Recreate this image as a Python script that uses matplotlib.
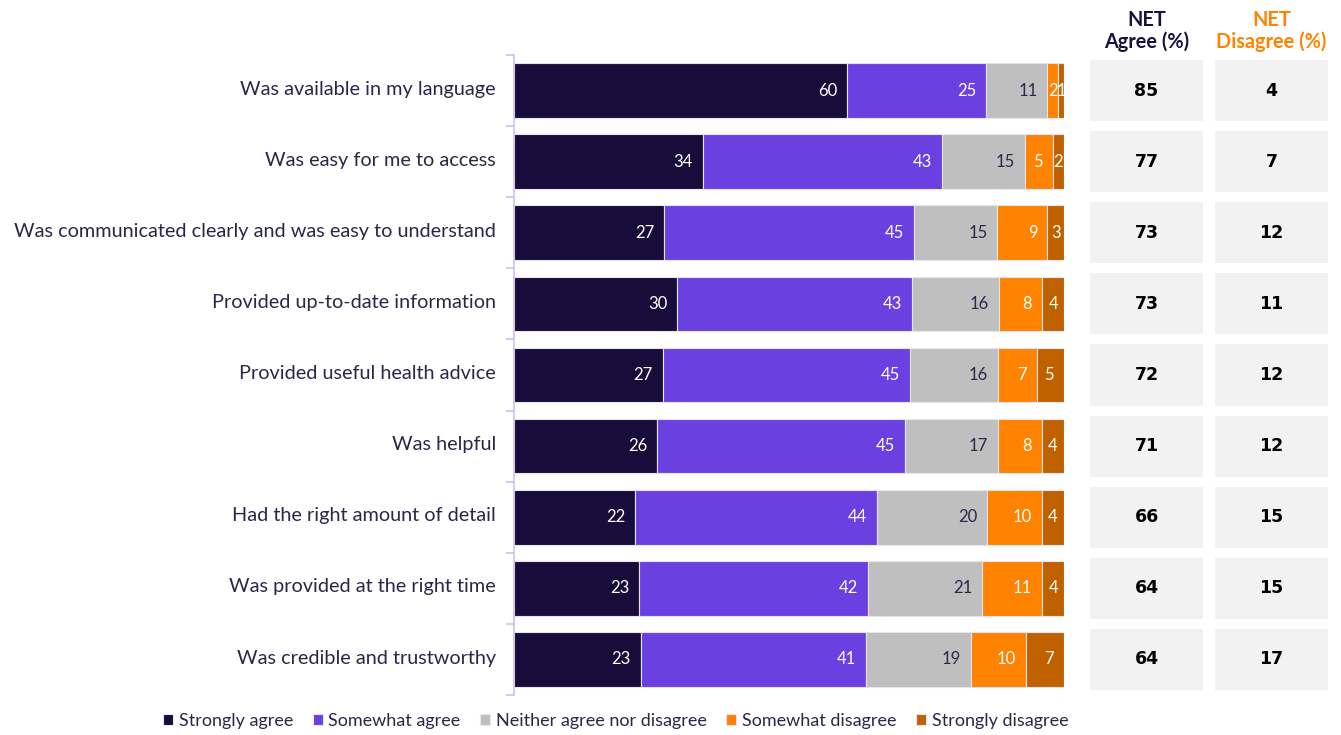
import matplotlib as mpl
mpl.use('Agg')
import matplotlib.pyplot as plt
import numpy as np

plt.rcParams['font.family'] = ['Lato', 'DejaVu Sans']

categories = ['Was available in my language', 'Was easy for me to access',
              'Was communicated clearly and was easy to understand',
              'Provided up-to-date information', 'Provided useful health advice',
              'Was helpful', 'Had the right amount of detail',
              'Was provided at the right time', 'Was credible and trustworthy']
strongly_agree = [60, 34, 27, 30, 27, 26, 22, 23, 23]
somewhat_agree = [25, 43, 45, 43, 45, 45, 44, 42, 41]
neither = [11, 15, 15, 16, 16, 17, 20, 21, 19]
somewhat_disagree = [2, 5, 9, 8, 7, 8, 10, 11, 10]
strongly_disagree = [1, 2, 3, 4, 5, 4, 4, 4, 7]
net_agree = [85, 77, 73, 73, 72, 71, 66, 64, 64]
net_disagree = [4, 7, 12, 11, 12, 12, 15, 15, 17]

series = [('Strongly agree', strongly_agree, '#170c3a', 'white'),
          ('Somewhat agree', somewhat_agree, '#6a40e0', 'white'),
          ('Neither agree nor disagree', neither, '#bfbfbf', '#2b2748'),
          ('Somewhat disagree', somewhat_disagree, '#ff8200', 'white'),
          ('Strongly disagree', strongly_disagree, '#c06100', 'white')]

fig = plt.figure(figsize=(13.41, 7.35), dpi=100)
ax = fig.add_axes([514/1341, 1-695/735, 550/1341, 640/735])

y = np.arange(len(categories))
totals = np.sum([s[1] for s in series], axis=0)
left = np.zeros(len(categories))
for name, vals, color, tcol in series:
    w = np.array(vals) / totals * 100
    ax.barh(y, w, left=left, height=0.77, color=color, edgecolor='#e8e4f4',
            linewidth=0.8, label=name)
    for yi, (l, wi, v) in enumerate(zip(left, w, vals)):
        if v >= 5:
            ax.text(l + wi - 1.8, yi, str(v), ha='right', va='center',
                    color=tcol, fontsize=12)
        else:
            ax.text(l + wi / 2, yi, str(v), ha='center', va='center',
                    color=tcol, fontsize=12)
    left += w

ax.set_xlim(0, 100)
ax.set_ylim(len(categories) - 0.5, -0.5)
ax.set_yticks(y - 0.04)
ax.set_yticklabels(categories, fontsize=14.3, color='#2b2748')
ax.tick_params(axis='y', which='major', length=0, pad=13)
ax.set_yticks(np.arange(len(categories) + 1) - 0.5, minor=True)
ax.tick_params(axis='y', which='minor', length=6, color='#c9c2ef', width=1.2)
ax.set_xticks([])
for s in ['top', 'right', 'bottom']:
    ax.spines[s].set_visible(False)
ax.spines['left'].set_color('#c9c2ef')
ax.spines['left'].set_linewidth(1.2)

# NET columns
for x0, vals, title, tcolor in [(1090, net_agree, 'NET\nAgree (%)', '#1a1040'),
                                (1215, net_disagree, 'NET\nDisagree (%)', '#ff8200')]:
    a = fig.add_axes([x0/1341, 1-695/735, 113/1341, 640/735])
    a.barh(y, [1] * len(y), height=0.86, color='#f2f2f2')
    for yi, v in enumerate(vals):
        a.text(0.5, yi, str(v), ha='center', va='center', fontsize=12.5,
               fontweight='bold', color='black', family='DejaVu Sans')
    a.set_xlim(0, 1)
    a.set_ylim(len(categories) - 0.5, -0.5)
    a.axis('off')
    a.text(0.5, 1.004, title, transform=a.transAxes, ha='center', va='bottom',
           fontsize=14.3, fontweight='bold', color=tcolor, linespacing=1.1)

ax.legend(loc='upper center', bbox_to_anchor=(0.185, -0.003), ncol=5,
          frameon=False, fontsize=13, handlelength=0.55, handleheight=0.55,
          handletextpad=0.3, columnspacing=1.1, labelcolor='#2b2748')

plt.savefig('out.png', dpi=100)
